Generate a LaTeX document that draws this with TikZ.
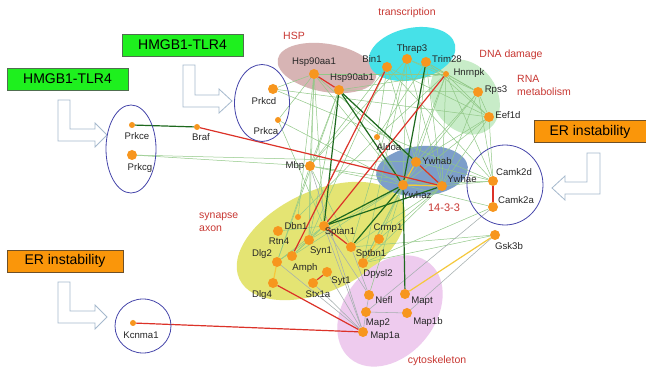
\documentclass[tikz,border=0pt]{standalone}
\usepackage{fontspec}
\setmainfont{Liberation Sans}
\usetikzlibrary{shapes.geometric}
\pgfdeclarelayer{bg}\pgfdeclarelayer{edges}
\pgfsetlayers{bg,edges,main}
\definecolor{nodeor}{RGB}{247,150,30}
\definecolor{lgreen}{RGB}{145,200,135}
\definecolor{egray}{RGB}{165,175,175}
\definecolor{dgreen}{RGB}{30,105,30}
\definecolor{ered}{RGB}{220,50,40}
\definecolor{eyellow}{RGB}{245,200,60}
\definecolor{grpred}{RGB}{200,55,50}
\definecolor{hspc}{RGB}{215,180,180}
\definecolor{trc}{RGB}{70,225,232}
\definecolor{dnac}{RGB}{200,236,200}
\definecolor{ywc}{RGB}{125,158,202}
\definecolor{sync}{RGB}{228,228,115}
\definecolor{cytc}{RGB}{238,203,238}
\definecolor{ringc}{RGB}{70,70,170}
\definecolor{arrc}{RGB}{165,185,205}
\definecolor{hgreen}{RGB}{30,240,30}
\definecolor{hborder}{RGB}{80,110,80}
\definecolor{erc}{RGB}{250,150,10}
\definecolor{erborder}{RGB}{110,80,40}
\newcommand{\pn}[5]{\node[#2] (#1) at (#3) {}; \node[lbl] (#1-t) at (#4) {#5};}
\begin{document}
\begin{tikzpicture}[x=1pt,y=-1pt,
  big/.style={circle,fill=nodeor,inner sep=0,minimum size=10pt},
  small/.style={circle,fill=nodeor,inner sep=0,minimum size=6pt},
  lbl/.style={font=\fontsize{9.6}{11}\selectfont,inner sep=0,text=black!85},
  grp/.style={font=\fontsize{10.5}{13}\selectfont,text=grpred,inner sep=0},
  region/.style={ellipse,inner sep=0},
  ring/.style={ellipse,draw=ringc,line width=0.8pt,inner sep=0},
  lg/.style={draw=lgreen,line width=0.5pt},
  gr/.style={draw=egray,line width=0.55pt},
  dg/.style={draw=dgreen,line width=1.2pt},
  rd/.style={draw=ered,line width=1.2pt},
  yl/.style={draw=eyellow,line width=1.2pt},
  hbox/.style={draw=hborder,fill=hgreen,line width=0.6pt,font=\fontsize{14}{16}\selectfont,minimum width=121pt,minimum height=22pt,inner sep=0},
  erbox/.style={draw=erborder,fill=erc,line width=0.6pt,font=\fontsize{14}{16}\selectfont,minimum height=22pt,inner sep=0},
  harrow/.style={draw=arrc,fill=white,line width=0.8pt,line join=miter}]
\useasboundingbox (0,0) rectangle (646,371);
\begin{pgfonlayer}{bg}
\fill[white] (0,0) rectangle (646,371);
\node[region,fill=sync,minimum width=180pt,minimum height=100pt,rotate=25] (synreg) at (321,241) {};
\node[region,fill=cytc,minimum width=124pt,minimum height=90pt,rotate=50] (cytreg) at (390,311) {};
\node[region,fill=hspc,minimum width=100pt,minimum height=48pt,rotate=-10] (hspreg) at (327,68) {};
\node[region,fill=dnac,minimum width=80pt,minimum height=64pt,rotate=-55] (dnareg) at (465,97) {};
\node[region,fill=trc,minimum width=88pt,minimum height=52pt,rotate=12] (trreg) at (412,54) {};
\node[region,fill=ywc,minimum width=92pt,minimum height=50pt,rotate=5] (ywreg) at (422,171) {};
\end{pgfonlayer}

% group labels
\node[grp] (gHSP) at (294,36) {HSP};
\node[grp] (gtr) at (407,13) {transcription};
\node[grp] (gdna) at (511,55) {DNA damage};
\node[grp,align=left,anchor=west] (grna) at (517,85) {RNA\\metabolism};
\node[grp,align=left,anchor=west] (gsyn) at (199,222) {synapse\\axon};
\node[grp,font=\fontsize{11}{13}\selectfont] (g1433) at (444,208) {14-3-3};
\node[grp] (gcyt) at (437,361) {cytoskeleton};

% boxes
\node[hbox] (h1) at (67.5,79) {HMGB1-TLR4};
\node[hbox] (h2) at (182.5,45) {HMGB1-TLR4};
\node[erbox,minimum width=112pt] (er1) at (590,131.5) {ER instability};
\node[erbox,minimum width=116pt] (er2) at (65,261) {ER instability};

% hollow arrows
\path[harrow] (58,100)--(70,100)--(70,129)--(95,129)--(95,123)--(107,135)--(95,147)--(95,141)--(58,141)--cycle;
\path[harrow] (183,65)--(195,65)--(195,95)--(219,95)--(219,89)--(232,101)--(219,113)--(219,107)--(183,107)--cycle;
\path[harrow] (600,153)--(587,153)--(587,182)--(565,182)--(565,176)--(552,188)--(565,200)--(565,194)--(600,194)--cycle;
\path[harrow] (58,282)--(70,282)--(70,311)--(95,311)--(95,305)--(107,317)--(95,329)--(95,323)--(58,323)--cycle;

% rings
\node[ring,minimum width=50pt,minimum height=88pt] (r1) at (131,149) {};
\node[ring,minimum width=55pt,minimum height=77pt] (r2) at (262,103) {};
\node[ring,minimum width=76pt,minimum height=80pt] (r3) at (505,185) {};
\node[ring,minimum width=56pt,minimum height=54pt] (r4) at (143,326) {};

% proteins
\pn{Prkce}{small}{132,125}{137,136}{Prkce}
\pn{Prkcg}{big}{132,155}{140,168}{Prkcg}
\pn{Braf}{small}{197,127}{201,137}{Braf}
\pn{Prkcd}{big}{273,89}{264,101}{Prkcd}
\pn{Prkca}{small}{278,120}{266,131}{Prkca}
\pn{Mbp}{big}{310,166}{295,166}{Mbp}
\pn{Hsp90aa1}{big}{314,74}{314,62}{Hsp90aa1}
\pn{Hsp90ab1}{big}{339,90}{352,78}{Hsp90ab1}
\pn{Bin1}{big}{387,67}{372,59}{Bin1}
\pn{Thrap3}{big}{407,59}{412,49}{Thrap3}
\pn{Trim28}{big}{426,62}{447,59}{Trim28}
\pn{Hnrnpk}{small}{446,74}{469,73}{Hnrnpk}
\pn{Rps3}{big}{478,92}{496,90}{Rps3}
\pn{Eef1d}{big}{489,117}{508,115}{Eef1d}
\pn{Aldoa}{small}{377,137}{389,147}{Aldoa}
\pn{Ywhab}{big}{416,162}{437,161}{Ywhab}
\pn{Ywhae}{big}{442,186}{462,179}{Ywhae}
\pn{Ywhaz}{big}{403,185}{417,195}{Ywhaz}
\pn{Camk2d}{big}{493,181}{514,172}{Camk2d}
\pn{Camk2a}{big}{493,207}{516,200}{Camk2a}
\pn{Gsk3b}{big}{495,235}{509,246}{Gsk3b}
\pn{Dbn1}{small}{298,217}{296,226}{Dbn1}
\pn{Rtn4}{big}{278,231}{279,241}{Rtn4}
\pn{Sptan1}{big}{324,226}{340,232}{Sptan1}
\pn{Syn1}{big}{309,240}{321,251}{Syn1}
\pn{Crmp1}{big}{379,239}{388,228}{Crmp1}
\pn{Sptbn1}{big}{351,247}{371,254}{Sptbn1}
\pn{Dlg2}{big}{277,262}{262,254}{Dlg2}
\pn{Amph}{big}{292,256}{305,268}{Amph}
\pn{Dpysl2}{big}{363,263}{378,274}{Dpysl2}
\pn{Syt1}{big}{327,272}{341,281}{Syt1}
\pn{Stx1a}{big}{313,283}{318,294}{Stx1a}
\pn{Dlg4}{big}{273,283}{262,295}{Dlg4}
\pn{Nefl}{big}{369,295}{384,300}{Nefl}
\pn{Mapt}{big}{405,294}{422,301}{Mapt}
\pn{Map2}{big}{366,312}{378,323}{Map2}
\pn{Map1b}{big}{407,313}{428,322}{Map1b}
\pn{Map1a}{big}{363,332}{385,336}{Map1a}
\pn{Kcnma1}{small}{133,323}{141,335}{Kcnma1}

\begin{pgfonlayer}{edges}
\foreach \a/\b in {Prkcd/Hsp90aa1, Prkcd/Eef1d, Prkcd/Camk2d,
 Prkca/Hsp90aa1, Prkca/Sptan1, Prkca/Ywhaz, Prkcg/Mbp, Prkcg/Ywhab,
 Hsp90aa1/Mbp, Hsp90aa1/Syn1, Hsp90aa1/Dbn1, Hsp90aa1/Sptan1, Hsp90aa1/Ywhaz, Hsp90aa1/Ywhae, Hsp90aa1/Hnrnpk,
 Hsp90ab1/Mbp, Hsp90ab1/Ywhae, Hsp90ab1/Hnrnpk, Hsp90ab1/Rps3, Hsp90ab1/Dlg2, Hsp90ab1/Syn1,
 Bin1/Aldoa, Bin1/Ywhab, Bin1/Camk2d, Bin1/Eef1d, Bin1/Syn1, Bin1/Mbp,
 Thrap3/Ywhaz, Thrap3/Ywhae, Thrap3/Hnrnpk, Thrap3/Rps3, Thrap3/Sptbn1, Thrap3/Mbp, Thrap3/Dpysl2,
 Trim28/Hnrnpk, Trim28/Rps3, Trim28/Eef1d, Trim28/Ywhab, Trim28/Ywhae, Trim28/Aldoa,
 Hnrnpk/Rps3, Hnrnpk/Eef1d, Hnrnpk/Ywhab, Hnrnpk/Ywhae, Hnrnpk/Camk2d, Hnrnpk/Ywhaz, Hnrnpk/Aldoa,
 Rps3/Eef1d, Rps3/Ywhab, Rps3/Ywhae, Rps3/Ywhaz, Rps3/Camk2d,
 Eef1d/Ywhae, Eef1d/Ywhaz, Eef1d/Camk2d, Eef1d/Ywhab,
 Aldoa/Ywhaz, Dbn1/Aldoa,
 Mbp/Dlg2, Mbp/Syn1, Mbp/Ywhaz, Mbp/Ywhae, Mbp/Sptbn1,
 Ywhaz/Crmp1, Ywhaz/Dpysl2, Ywhaz/Nefl, Ywhaz/Camk2d, Ywhaz/Camk2a, Ywhaz/Syn1, Ywhaz/Amph,
 Ywhae/Camk2d, Ywhae/Crmp1, Ywhae/Sptbn1, Ywhae/Dpysl2, Ywhab/Camk2d, Ywhab/Dpysl2,
 Camk2a/Dpysl2, Gsk3b/Dpysl2, Gsk3b/Sptbn1,
 Sptan1/Syn1, Sptan1/Rtn4, Sptan1/Amph, Sptan1/Dlg2, Syn1/Amph, Dlg2/Syn1}
 \draw[lg] (\a) -- (\b);
\foreach \a/\b in {Camk2a/Map2, Gsk3b/Map1b, Mbp/Map1a, Sptan1/Map1a, Dlg2/Map1a, Stx1a/Map1a,
 Syt1/Map1a, Map2/Map1b, Map2/Map1a, Nefl/Map2, Sptbn1/Nefl, Sptan1/Nefl}
 \draw[gr] (\a) -- (\b);
\foreach \a/\b in {Ywhab/Ywhaz, Ywhaz/Ywhae, Mapt/Gsk3b, Crmp1/Dpysl2, Dlg2/Dlg4}
 \draw[yl] (\a) -- (\b);
\foreach \a/\b in {Prkce/Braf, Hsp90ab1/Sptan1, Hsp90ab1/Ywhaz, Hsp90ab1/Ywhab, Trim28/Ywhaz,
 Ywhaz/Sptan1, Ywhae/Sptan1, Ywhaz/Sptbn1, Ywhaz/Mapt}
 \draw[dg] (\a) -- (\b);
\foreach \a/\b in {Hsp90aa1/Hsp90ab1, Braf/Ywhae, Bin1/Amph, Hnrnpk/Sptan1, Ywhab/Ywhae,
 Camk2d/Camk2a, Sptan1/Sptbn1, Dlg4/Map1a, Kcnma1/Map1a, Syt1/Stx1a}
 \draw[rd] (\a) -- (\b);
\end{pgfonlayer}
\end{tikzpicture}
\end{document}
